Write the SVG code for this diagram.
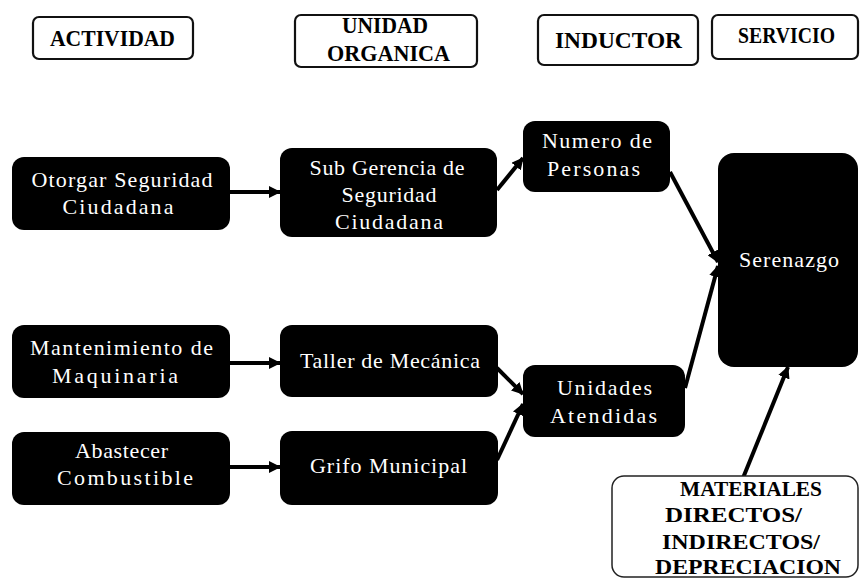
<svg xmlns="http://www.w3.org/2000/svg" width="863" height="581" viewBox="0 0 863 581">
<style>
.hdr{fill:#fff;stroke:#111;stroke-width:2.2}
.ht{font-family:"Liberation Serif","Times New Roman",serif;font-weight:bold;font-size:23px;fill:#000;text-anchor:middle}
.mt{font-family:"Liberation Serif","Times New Roman",serif;font-weight:bold;font-size:22px;fill:#000;text-anchor:middle}
.nd{fill:#000}
.nt{font-family:"Liberation Serif","Times New Roman",serif;font-size:22px;fill:#fff;text-anchor:middle}
.cn{stroke:#000;stroke-width:4;fill:none}
.mat{fill:#fff;stroke:#222;stroke-width:1.5}
</style>
<defs>
<marker id="ah" markerUnits="userSpaceOnUse" markerWidth="12" markerHeight="12" viewBox="0 0 12 12" refX="11" refY="6" orient="auto">
<path d="M0,0 L12,6 L0,12 Z" fill="#000"/>
</marker>
</defs>
<g id="headers">
<g id="h-actividad"><rect class="hdr" x="33" y="17" width="160" height="42" rx="6"/><text class="ht" x="112.5" y="46" textLength="125" lengthAdjust="spacingAndGlyphs">ACTIVIDAD</text></g>
<g id="h-unidad"><rect class="hdr" x="295" y="15" width="182" height="52" rx="6"/><text class="ht" x="385" y="33" textLength="86" lengthAdjust="spacingAndGlyphs">UNIDAD</text><text class="ht" x="388.5" y="61" textLength="123" lengthAdjust="spacingAndGlyphs">ORGANICA</text></g>
<g id="h-inductor"><rect class="hdr" x="538" y="15" width="160" height="50" rx="6"/><text class="ht" x="618.5" y="48" textLength="127" lengthAdjust="spacingAndGlyphs">INDUCTOR</text></g>
<g id="h-servicio"><rect class="hdr" x="712" y="15" width="146" height="44" rx="6"/><text class="ht" x="786.5" y="43" textLength="97" lengthAdjust="spacingAndGlyphs">SERVICIO</text></g>
</g>
<g id="connectors">
<line class="cn" x1="230" y1="192" x2="280" y2="192" marker-end="url(#ah)"/>
<line class="cn" x1="230" y1="363" x2="280" y2="363" marker-end="url(#ah)"/>
<line class="cn" x1="230" y1="467" x2="280" y2="467" marker-end="url(#ah)"/>
<line class="cn" x1="497" y1="190" x2="523" y2="158" marker-end="url(#ah)"/>
<line class="cn" x1="497" y1="368" x2="523" y2="394" marker-end="url(#ah)"/>
<line class="cn" x1="497" y1="460" x2="523" y2="404" marker-end="url(#ah)"/>
<line class="cn" x1="670" y1="172" x2="718" y2="262" marker-end="url(#ah)"/>
<line class="cn" x1="685" y1="388" x2="718" y2="266" marker-end="url(#ah)"/>
<line class="cn" x1="743" y1="478" x2="788" y2="367" marker-end="url(#ah)"/>
</g>
<g id="n-otorgar"><rect class="nd" x="12" y="157" width="218" height="73" rx="12"/><text class="nt" x="122" y="187" textLength="181">Otorgar Seguridad</text><text class="nt" x="118" y="214" textLength="111">Ciudadana</text></g>
<g id="n-subgerencia"><rect class="nd" x="280" y="148" width="217" height="89" rx="12"/><text class="nt" x="387" y="175" textLength="155">Sub Gerencia de</text><text class="nt" x="389" y="202" textLength="95">Seguridad</text><text class="nt" x="389" y="229" textLength="108">Ciudadana</text></g>
<g id="n-numero"><rect class="nd" x="523" y="121" width="147" height="71" rx="12"/><text class="nt" x="597" y="148" textLength="110">Numero de</text><text class="nt" x="593.5" y="176" textLength="93">Personas</text></g>
<g id="n-serenazgo"><rect class="nd" x="718" y="153" width="140" height="214" rx="16"/><text class="nt" x="789" y="267" textLength="100">Serenazgo</text></g>
<g id="n-mantenimiento"><rect class="nd" x="12" y="325" width="218" height="73" rx="12"/><text class="nt" x="121.5" y="355" textLength="183">Mantenimiento de</text><text class="nt" x="115" y="383" textLength="126">Maquinaria</text></g>
<g id="n-taller"><rect class="nd" x="280" y="325" width="218" height="72" rx="12"/><text class="nt" x="390" y="368" textLength="180">Taller de Mecánica</text></g>
<g id="n-unidades"><rect class="nd" x="523" y="365" width="162" height="72" rx="12"/><text class="nt" x="604.5" y="395" textLength="95">Unidades</text><text class="nt" x="603.5" y="423" textLength="107">Atendidas</text></g>
<g id="n-abastecer"><rect class="nd" x="12" y="432" width="218" height="73" rx="12"/><text class="nt" x="121.5" y="458" textLength="93">Abastecer</text><text class="nt" x="125" y="485" textLength="136">Combustible</text></g>
<g id="n-grifo"><rect class="nd" x="280" y="431" width="218" height="74" rx="12"/><text class="nt" x="388.5" y="473" textLength="157">Grifo Municipal</text></g>
<g id="n-materiales"><rect class="mat" x="612" y="476" width="246" height="101" rx="12"/>
<text class="mt" x="751" y="496" textLength="142" lengthAdjust="spacingAndGlyphs">MATERIALES</text>
<text class="mt" x="733.5" y="522" textLength="137" lengthAdjust="spacingAndGlyphs">DIRECTOS/</text>
<text class="mt" x="741" y="549" textLength="158" lengthAdjust="spacingAndGlyphs">INDIRECTOS/</text>
<text class="mt" x="748" y="574" textLength="186" lengthAdjust="spacingAndGlyphs">DEPRECIACION</text></g>
</svg>
